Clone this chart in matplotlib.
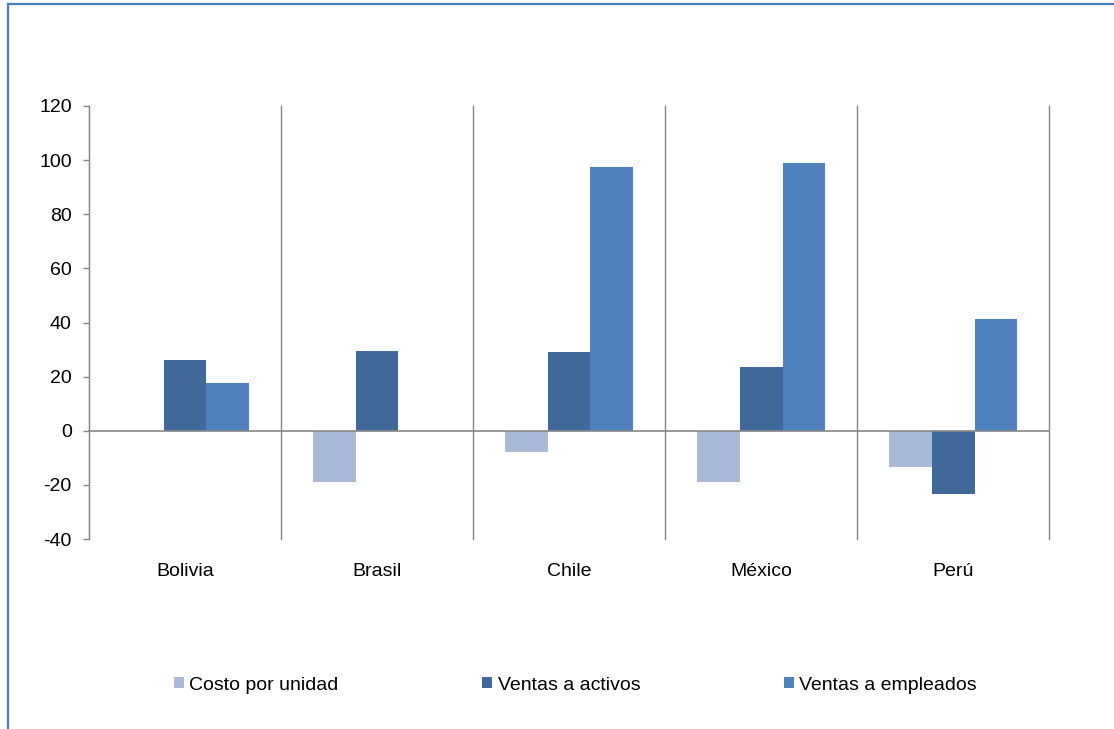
import matplotlib.pyplot as plt
from matplotlib.lines import Line2D
import numpy as np

plt.rcParams['font.family'] = ['Liberation Sans', 'DejaVu Sans']
plt.rcParams['axes.unicode_minus'] = False

# Data
paises = ['Bolivia', 'Brasil', 'Chile', 'México', 'Perú']
costo_por_unidad = [np.nan, -18.8, -8.0, -19.1, -13.4]
ventas_activos = [26.2, 29.5, 29.1, 23.6, -23.3]
ventas_empleados = [17.5, np.nan, 97.3, 99.1, 41.2]
series_nombres = ['Costo por unidad', 'Ventas a activos', 'Ventas a empleados']
colores = ['#AAB9D7', '#40699A', '#4F81BD']

fig = plt.figure(figsize=(11.14, 7.29), dpi=100)
ax = fig.add_axes([0.0799, 0.2606, 0.862, 0.594])

x = np.arange(len(paises))
ancho = 1 / 4.5  # excel style gap width 150%
for i, (vals, nombre, col) in enumerate(zip([costo_por_unidad, ventas_activos, ventas_empleados],
                                            series_nombres, colores)):
    ax.bar(x + (i - 1) * ancho, vals, width=ancho, color=col, label=nombre,
           edgecolor='none', zorder=2)

ax.set_xlim(-0.5, len(paises) - 0.5)
ax.set_ylim(-40, 120)
ax.set_yticks(np.arange(-40, 121, 20))

# vertical separators between categories
for sep in np.arange(-0.5, len(paises), 1.0):
    ax.axvline(sep, color='#868686', linewidth=1.0, zorder=1, clip_on=False)
ax.axhline(0, color='#868686', linewidth=1.2, zorder=3, clip_on=False)

for side in ['top', 'right', 'bottom']:
    ax.spines[side].set_visible(False)
ax.spines['left'].set_color('#868686')

ax.set_xticks(x)
ax.set_xticklabels(paises)
ax.tick_params(axis='x', length=0, pad=17, labelsize=14)
ax.tick_params(axis='y', length=4, width=1, color='#868686', pad=8.5, labelsize=14)

fig.legend(loc='center', bbox_to_anchor=(0.5166, 0.060), ncol=3, frameon=False,
           fontsize=14, handlelength=0.5, handleheight=0.5, handletextpad=0.28,
           columnspacing=7.4)

# blue frame of the chart area (only top and left visible)
fig.add_artist(Line2D([0.0072, 0.0072], [0, 0.9945], transform=fig.transFigure,
                      color='#4A7EBB', linewidth=1.6))
fig.add_artist(Line2D([0.0072, 1], [0.9945, 0.9945], transform=fig.transFigure,
                      color='#4A7EBB', linewidth=1.6))

fig.savefig('out.png', dpi=100)
